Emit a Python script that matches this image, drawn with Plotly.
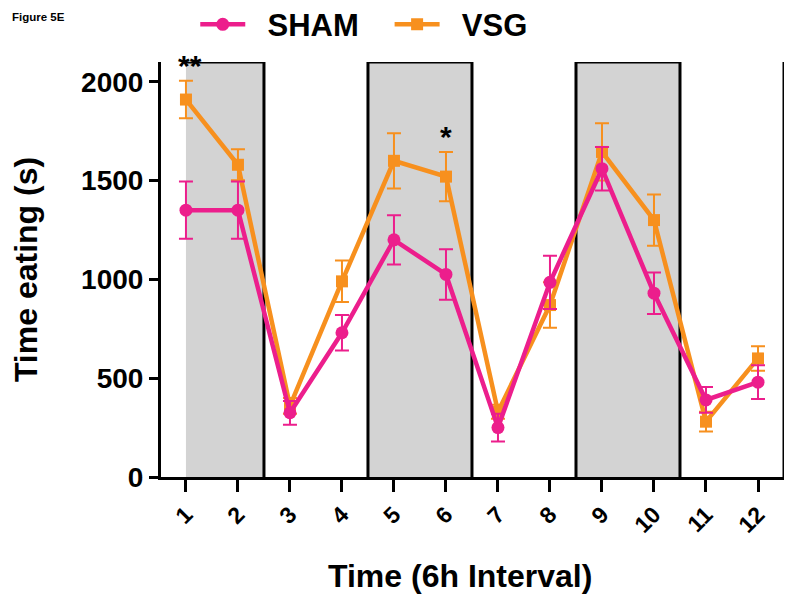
import plotly.graph_objects as go

# ---- data ----
intervals = [1, 2, 3, 4, 5, 6, 7, 8, 9, 10, 11, 12]
tick_labels = [str(i) for i in intervals]
sham = [1350, 1350, 325, 730, 1200, 1025, 250, 985, 1560, 930, 390, 480]
sham_sem = [145, 145, 60, 90, 125, 128, 70, 135, 110, 105, 65, 85]
vsg = [1910, 1580, 360, 990, 1600, 1520, 330, 870, 1645, 1300, 280, 600]
vsg_sem = [95, 78, 40, 105, 140, 125, 35, 115, 145, 130, 50, 62]
dark_periods = [(1, 2.5), (4.5, 6.5), (8.5, 10.5)]
period_edges = [2.5, 4.5, 6.5, 8.5, 10.5, 12.5]
sig_marks = [(1, "**", 2080), (6, "*", 1722)]

PINK = "#EC1E8C"
ORANGE = "#F7901E"
FONT = "Arial, Liberation Sans, sans-serif"
YTOP = 2100
NB = "\u00a0"

fig = go.Figure()

fig.add_trace(go.Scatter(
    x=intervals, y=vsg, name=NB * 2 + "VSG", mode="lines+markers",
    line=dict(color=ORANGE, width=4.5),
    marker=dict(symbol="square", size=12, color=ORANGE),
    error_y=dict(type="data", array=vsg_sem, color=ORANGE, thickness=2, width=7),
    legendrank=2,
))
fig.add_trace(go.Scatter(
    x=intervals, y=sham, name=NB * 2 + "SHAM" + NB * 3, mode="lines+markers",
    line=dict(color=PINK, width=4.5),
    marker=dict(symbol="circle", size=13, color=PINK),
    error_y=dict(type="data", array=sham_sem, color=PINK, thickness=2, width=7),
    legendrank=1,
))

shapes = []
for x0, x1 in dark_periods:
    shapes.append(dict(type="rect", xref="x", yref="y", x0=x0, x1=x1, y0=0, y1=YTOP,
                       fillcolor="#D3D3D3", line=dict(width=0), layer="below"))
    shapes.append(dict(type="line", xref="x", yref="y", x0=x0, x1=x1, y0=YTOP, y1=YTOP,
                       line=dict(color="black", width=3), layer="below"))
for xe in period_edges:
    shapes.append(dict(type="line", xref="x", yref="y", x0=xe, x1=xe, y0=0, y1=YTOP,
                       line=dict(color="black", width=3), layer="below"))

annotations = [
    dict(x=0, y=1, xref="paper", yref="paper", xanchor="left", yanchor="top",
         xshift=-151, yshift=53, text="Figure 5E", showarrow=False,
         font=dict(family=FONT, size=11.5, color="black", weight="bold")),
    dict(x=0.48, y=-0.2386, xref="paper", yref="paper", xanchor="center", yanchor="middle",
         text="Time (6h Interval)", showarrow=False,
         font=dict(family=FONT, size=32, color="black", weight="bold")),
]
for xv, txt, yv in sig_marks:
    annotations.append(dict(x=xv, y=yv, xref="x", yref="y", text=txt,
                            showarrow=False, xshift=4 if xv == 1 else 0,
                            font=dict(family=FONT, size=30, color="black", weight="bold")))

fig.update_layout(
    width=800, height=600,
    margin=dict(l=153, r=24, t=54, b=131, autoexpand=False),
    plot_bgcolor="white", paper_bgcolor="white",
    font=dict(family=FONT, color="black"),
    shapes=shapes, annotations=annotations,
    showlegend=True,
    legend=dict(orientation="h", x=0.055, xanchor="left", y=1.09, yanchor="middle",
                font=dict(family=FONT, size=31, color="black", weight="bold"),
                itemwidth=45, bgcolor="rgba(0,0,0,0)"),
    xaxis=dict(range=[0.52, 12.5], tickmode="array", tickvals=intervals, ticktext=tick_labels,
               tickangle=-45, showgrid=False, zeroline=False, automargin=False,
               showline=True, linecolor="black", linewidth=3,
               ticks="outside", ticklen=12, tickwidth=3, tickcolor="black",
               tickfont=dict(family=FONT, size=23, color="black", weight="bold")),
    yaxis=dict(range=[0, YTOP], tickmode="array", tickvals=[0, 500, 1000, 1500, 2000],
               showgrid=False, zeroline=False, automargin=False,
               showline=True, linecolor="black", linewidth=3,
               ticks="outside", ticklen=9, tickwidth=3, tickcolor="black",
               tickfont=dict(family=FONT, size=28, color="black", weight="bold"),
               title=dict(text="Time eating (s)", standoff=38,
                          font=dict(family=FONT, size=32, color="black", weight="bold"))),
)

fig.write_html("out.html")
